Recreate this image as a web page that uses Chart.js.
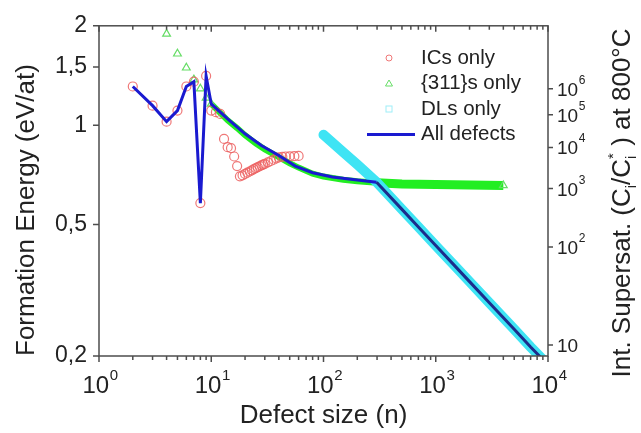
<!DOCTYPE html>
<html>
<head>
<meta charset="utf-8">
<script src="https://cdn.jsdelivr.net/npm/chart.js@4/dist/chart.umd.min.js"></script>
<style>
  html, body { margin: 0; padding: 0; background: #fff; }
</style>
</head>
<body>
<canvas id="grafico" width="641" height="433"></canvas>
<script>
// Valores (n = tamanho do defeito, E em eV/at)
const icsN = [2, 3, 4, 5, 6, 7, 8, 9, 10, 11, 12, 13, 14, 15, 16, 17, 18, 19, 20, 21, 22, 23, 24, 25, 26, 27, 28, 29, 30, 32, 34, 36, 38, 40, 43, 46, 50, 55, 60];
const icsE = [1.31, 1.146, 1.025, 1.107, 1.31, 1.355, 0.581, 1.41, 1.107, 1.095, 1.082, 0.909, 0.858, 0.852, 0.804, 0.752, 0.700, 0.705, 0.712, 0.718, 0.724, 0.730, 0.736, 0.741, 0.746, 0.751, 0.756, 0.760, 0.764, 0.772, 0.779, 0.786, 0.793, 0.799, 0.802, 0.804, 0.805, 0.806, 0.807];

const n311 = [4, 5, 6, 7, 8, 9, 10, 12, 14, 17, 20, 25, 30, 40, 50, 60, 80, 100, 150, 200, 300, 500, 1000, 2000, 4000];
const e311 = [1.89, 1.646, 1.493, 1.374, 1.29, 1.21, 1.16, 1.09, 1.035, 0.98, 0.933, 0.88, 0.845, 0.80, 0.767, 0.744, 0.713, 0.699, 0.684, 0.676, 0.669, 0.664, 0.661, 0.659, 0.657];

const dlsN = [100, 150, 200, 300, 500, 700, 1000, 1500, 2000, 3000, 5000, 7000, 10000];
const dlsE = [0.935, 0.828, 0.76, 0.67, 0.556, 0.492, 0.432, 0.373, 0.336, 0.29, 0.241, 0.213, 0.188];

const todosN = [2, 3, 4, 5, 6, 7, 8, 9, 10, 14, 20, 28, 40, 56, 80, 120, 200, 297, 500, 700, 1000, 1500, 2000, 3000, 5000, 7000, 10000];
const todosE = [1.31, 1.146, 1.025, 1.107, 1.31, 1.355, 0.581, 1.41, 1.16, 1.045, 0.942, 0.868, 0.81, 0.752, 0.718, 0.697, 0.682, 0.672, 0.556, 0.492, 0.432, 0.373, 0.336, 0.29, 0.241, 0.213, 0.188];

// Ticks
const energiaTicks = [0.2, 0.5, 1, 1.5, 2];
const supersatTicks = [0.216, 0.428, 0.643, 0.856, 1.075, 1.29];
const supersatExp = [1, 2, 3, 4, 5, 6];
const decadas = [1, 10, 100, 1000, 10000];

const FONTE = "'Liberation Sans', Arial, sans-serif";
const corTexto = '#222';
const corEixo = '#4d4d4d';

function pontos(xs, ys) {
    return xs.map((x, i) => ({ x: x, y: ys[i] }));
}

// Ticks do eixo x: 1..9 em cada década
function ticksX() {
    const lista = [];
    decadas.slice(0, -1).forEach(d => {
        for (let k = 1; k <= 9; k++) lista.push({ value: d * k });
    });
    lista.push({ value: decadas[decadas.length - 1] });
    return lista;
}

function ehDecada(v) {
    const l = Math.log10(v);
    return Math.abs(l - Math.round(l)) < 1e-9;
}

// Moldura e marcas dos eixos
const molduraPlugin = {
    id: 'moldura',
    afterDatasetsDraw(chart) {
        const { ctx, chartArea: a, scales } = chart;
        ctx.save();
        ctx.strokeStyle = corEixo;
        ctx.lineWidth = 1.5;
        ctx.strokeRect(a.left, a.top, a.right - a.left, a.bottom - a.top);
        ctx.beginPath();
        scales.x.ticks.forEach(t => {
            const px = scales.x.getPixelForValue(t.value);
            const len = ehDecada(t.value) ? 6 : 4;
            ctx.moveTo(px, a.bottom);
            ctx.lineTo(px, a.bottom + len);
            ctx.moveTo(px, a.top);
            ctx.lineTo(px, a.top + len);
        });
        scales.y.ticks.forEach(t => {
            const py = scales.y.getPixelForValue(t.value);
            ctx.moveTo(a.left - 6, py);
            ctx.lineTo(a.left, py);
        });
        scales.y2.ticks.forEach(t => {
            const py = scales.y2.getPixelForValue(t.value);
            ctx.moveTo(a.right, py);
            ctx.lineTo(a.right + 5, py);
        });
        ctx.stroke();
        ctx.restore();
    }
};

// Rótulos 10^k com expoente elevado (eixo x e eixo da direita)
const potenciasPlugin = {
    id: 'potencias',
    afterDraw(chart) {
        const { ctx, scales } = chart;
        ctx.save();
        ctx.fillStyle = corTexto;
        ctx.textBaseline = 'alphabetic';
        ctx.textAlign = 'left';
        decadas.forEach((d, k) => {
            const px = scales.x.getPixelForValue(d);
            ctx.font = '24px ' + FONTE;
            const w1 = ctx.measureText('10').width;
            ctx.font = '15px ' + FONTE;
            const w2 = ctx.measureText(String(k)).width;
            const x0 = px - (w1 + w2) / 2 + 1;
            ctx.font = '24px ' + FONTE;
            ctx.fillText('10', x0, 393);
            ctx.font = '15px ' + FONTE;
            ctx.fillText(String(k), x0 + w1 + 0.5, 380);
        });
        const x0 = scales.y2.left + 9;
        supersatTicks.forEach((v, i) => {
            const py = scales.y2.getPixelForValue(v);
            ctx.font = '19px ' + FONTE;
            ctx.fillText('10', x0, py + 7);
            if (supersatExp[i] > 1) {
                const w1 = ctx.measureText('10').width;
                ctx.font = '12px ' + FONTE;
                ctx.fillText(String(supersatExp[i]), x0 + w1 + 0.5, py - 5);
            }
        });
        ctx.restore();
    }
};

// Legenda dentro da área do gráfico
const legendaPlugin = {
    id: 'legenda',
    afterDraw(chart) {
        const ctx = chart.ctx;
        const xs = 389, xt = 421, y0 = 58, dy = 25.5;
        ctx.save();
        ctx.font = '20.5px ' + FONTE;
        ctx.fillStyle = corTexto;
        ctx.textBaseline = 'middle';
        chart.data.datasets.forEach((ds, i) => {
            const y = y0 + i * dy;
            ctx.save();
            ctx.lineWidth = 1;
            if (ds.tipoLegenda === 'circulo') {
                ctx.strokeStyle = ds.borderColor;
                ctx.beginPath();
                ctx.arc(xs, y, 3, 0, Math.PI * 2);
                ctx.stroke();
            } else if (ds.tipoLegenda === 'triangulo') {
                ctx.strokeStyle = ds.pointBorderColor;
                ctx.beginPath();
                ctx.moveTo(xs, y - 3.5);
                ctx.lineTo(xs + 3.5, y + 2.5);
                ctx.lineTo(xs - 3.5, y + 2.5);
                ctx.closePath();
                ctx.stroke();
            } else if (ds.tipoLegenda === 'quadrado') {
                ctx.strokeStyle = '#9eeef8';
                ctx.strokeRect(xs - 3, y - 3, 6, 6);
            } else {
                ctx.strokeStyle = '#1a1ad0';
                ctx.lineWidth = 3;
                ctx.beginPath();
                ctx.moveTo(367, y);
                ctx.lineTo(415, y);
                ctx.stroke();
            }
            ctx.restore();
            ctx.fillText(ds.label, xt, y);
        });
        ctx.restore();
    }
};

// Título do eixo da direita, com índices
const tituloDireitaPlugin = {
    id: 'tituloDireita',
    afterDraw(chart) {
        const ctx = chart.ctx;
        const partes = [
            { t: 'Int. Supersat. (C', s: 26, dy: 0 },
            { t: 'i', s: 15, dy: 6 },
            { t: '/C', s: 26, dy: 0 },
            { t: 'i', s: 15, dy: 6, sup: '*' },
            { t: ' ) at 800°C', s: 26, dy: 0 }
        ];
        ctx.save();
        let total = 0;
        partes.forEach(p => {
            ctx.font = p.s + 'px ' + FONTE;
            p.w = ctx.measureText(p.t).width;
            if (p.sup) {
                ctx.font = '15px ' + FONTE;
                p.w = Math.max(p.w, ctx.measureText(p.sup).width);
            }
            total += p.w;
        });
        ctx.translate(630, 203);
        ctx.rotate(-Math.PI / 2);
        ctx.fillStyle = corTexto;
        ctx.textBaseline = 'alphabetic';
        let x = -total / 2;
        partes.forEach(p => {
            ctx.font = p.s + 'px ' + FONTE;
            ctx.fillText(p.t, x, p.dy);
            if (p.sup) {
                ctx.font = '15px ' + FONTE;
                ctx.fillText(p.sup, x, -12);
            }
            x += p.w;
        });
        ctx.restore();
    }
};

const corAzul = '#1a1ad0';
const corAzulEscuro = '#1c2c8c';

new Chart(document.getElementById('grafico').getContext('2d'), {
    type: 'line',
    data: {
        datasets: [
            {
                label: 'ICs only',
                tipoLegenda: 'circulo',
                data: pontos(icsN, icsE),
                showLine: false,
                pointStyle: 'circle',
                pointRadius: 4.5,
                pointBorderWidth: 1.2,
                borderColor: 'rgba(236,96,96,0.85)',
                pointBorderColor: 'rgba(236,96,96,0.85)',
                pointBackgroundColor: 'rgba(255,255,255,0)',
                order: 1
            },
            {
                label: '{311}s only',
                tipoLegenda: 'triangulo',
                data: pontos(n311, e311),
                borderColor: '#22ee22',
                borderWidth: 7,
                pointStyle: 'triangle',
                pointRadius: ctx => (ctx.raw && (ctx.raw.x <= 10 || ctx.dataIndex === n311.length - 1)) ? 4.5 : 0,
                pointBorderWidth: 1.2,
                pointBorderColor: '#66dd66',
                pointBackgroundColor: 'rgba(255,255,255,0)',
                segment: {
                    borderColor: ctx => ctx.p0.parsed.x < 10 ? 'rgba(0,0,0,0)' : '#22ee22',
                    borderWidth: ctx => ctx.p0.parsed.x < 250 ? 6 : 9
                },
                tension: 0,
                order: 3
            },
            {
                label: 'DLs only',
                tipoLegenda: 'quadrado',
                data: pontos(dlsN, dlsE),
                borderColor: '#3fe4f4',
                borderWidth: 10,
                borderCapStyle: 'round',
                pointRadius: 0,
                tension: 0,
                order: 2
            },
            {
                label: 'All defects',
                tipoLegenda: 'linha',
                data: pontos(todosN, todosE),
                borderColor: corAzul,
                borderWidth: 3,
                pointRadius: 0,
                segment: {
                    borderColor: ctx => ctx.p0.parsed.x >= 297 ? corAzulEscuro : corAzul
                },
                tension: 0,
                order: 0
            }
        ]
    },
    options: {
        responsive: false,
        animation: false,
        devicePixelRatio: 1,
        layout: { padding: { top: 25, left: 0, right: 0, bottom: 0 } },
        plugins: {
            legend: { display: false },
            tooltip: { enabled: false }
        },
        scales: {
            x: {
                type: 'logarithmic',
                position: 'bottom',
                min: 1,
                max: 10000,
                afterBuildTicks: scale => { scale.ticks = ticksX(); },
                afterFit: scale => { scale.height = 77; },
                border: { display: false },
                grid: { drawOnChartArea: false, drawTicks: false },
                ticks: { display: false },
                title: {
                    display: true,
                    text: 'Defect size (n)',
                    color: corTexto,
                    font: { family: FONTE, size: 26 },
                    padding: { top: 0, bottom: 2 }
                }
            },
            y: {
                type: 'logarithmic',
                position: 'left',
                min: 0.2,
                max: 2,
                afterBuildTicks: scale => { scale.ticks = energiaTicks.map(v => ({ value: v })); },
                afterFit: scale => { scale.width = 99; },
                border: { display: false },
                grid: { drawOnChartArea: false, drawTicks: false },
                ticks: {
                    padding: 12,
                    color: corTexto,
                    font: { family: FONTE, size: 23 },
                    callback: v => String(v).replace('.', ',')
                },
                title: {
                    display: true,
                    text: 'Formation Energy (eV/at)',
                    align: 'start',
                    color: corTexto,
                    font: { family: FONTE, size: 26 },
                    padding: { top: 11, bottom: 0 }
                }
            },
            y2: {
                type: 'logarithmic',
                position: 'right',
                min: 0.2,
                max: 2,
                afterBuildTicks: scale => { scale.ticks = supersatTicks.map(v => ({ value: v })); },
                afterFit: scale => { scale.width = 93; },
                border: { display: false },
                grid: { drawOnChartArea: false, drawTicks: false },
                ticks: { display: false }
            }
        }
    },
    plugins: [molduraPlugin, potenciasPlugin, legendaPlugin, tituloDireitaPlugin]
});
</script>
</body>
</html>
